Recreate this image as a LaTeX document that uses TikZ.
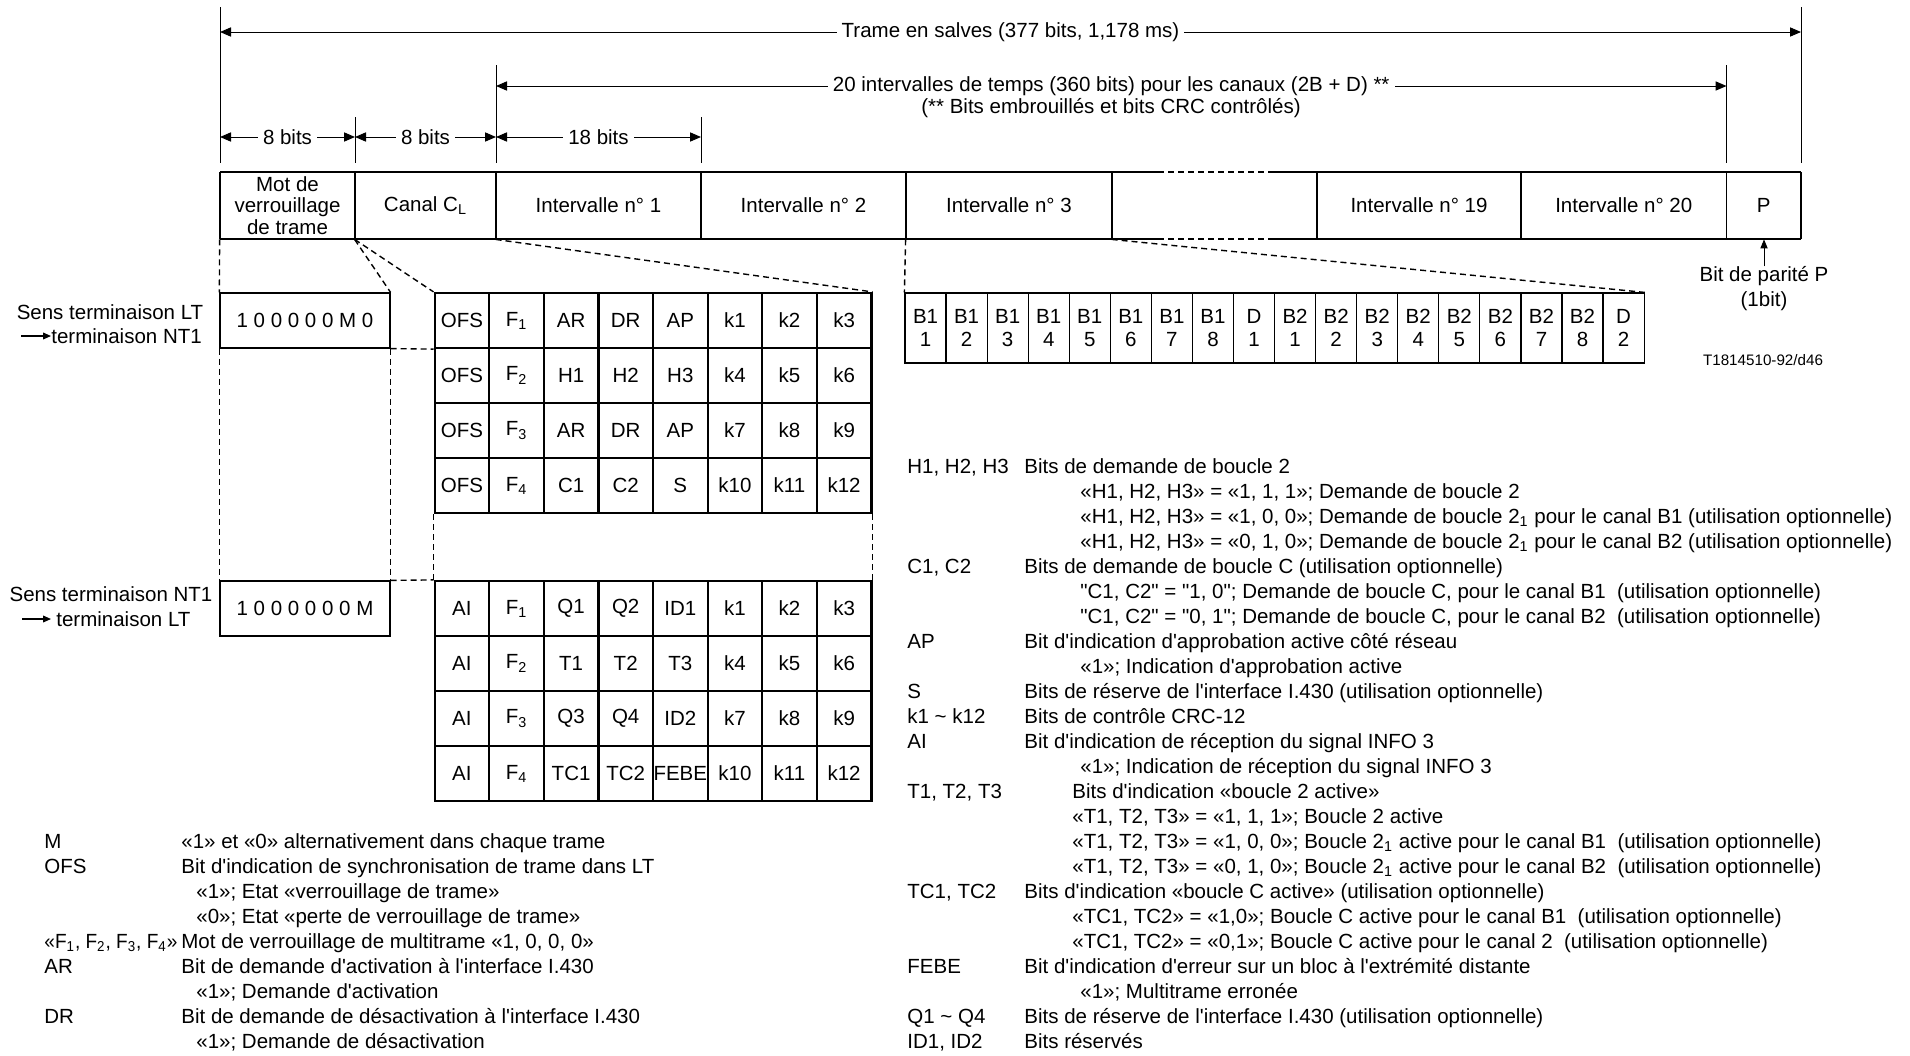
\documentclass[tikz,border=0pt]{standalone}
\usepackage{fontspec}
\newfontfamily\itufont{Liberation Sans}
\usetikzlibrary{arrows.meta}

\newcommand{\txt}{\itufont\fontsize{10.25}{12.5}\selectfont}
\newcommand{\tinytxt}{\itufont\fontsize{7.6}{9}\selectfont}
\newcommand{\sbs}[1]{\textsubscript{#1}}
\newcommand{\lrow}{466}
\newcommand{\lstep}{25}
\newcommand{\xlab}{907}
\newcommand{\xdesc}{1024}
\newcommand{\xsub}{1080}
\newcommand{\xtsub}{1072}
\newcommand{\legnode}[4]{\node[legtext] (#1) at (#2,{\lrow+7+\lstep*#3}) {#4};}

\tikzset{
  legtext/.style={font=\txt,inner sep=0pt,anchor=base west},
  dimline/.style={line width=0.5pt,{Triangle[length=5.5pt,width=4.6pt]}-{Triangle[length=5.5pt,width=4.6pt]}},
  extline/.style={line width=0.5pt},
  dimtext/.style={font=\txt,fill=white,inner xsep=2.5pt,inner ysep=1pt},
  framepen/.style={line width=0.7pt},
  fcell/.style={font=\itufont\fontsize{10.25}{10.6}\selectfont,inner sep=0pt,minimum height=33.5pt,align=center},
  tcell/.style={draw,line width=1.1pt,font=\txt,inner sep=0pt,minimum width=27.3pt,minimum height=27.5pt},
  bcell/.style={draw,line width=0.6pt,font=\itufont\fontsize{10.25}{11.5}\selectfont,inner sep=0pt,minimum width=20.53pt,minimum height=35pt,align=center},
  wordbox/.style={draw,line width=0.6pt,font=\txt,inner sep=0pt,minimum width=85pt,minimum height=27.5pt},
  zoomline/.style={dash pattern=on 3pt off 2pt,line width=0.7pt},
  sensarrow/.style={line width=0.6pt,-{Triangle[length=4pt,width=3.4pt]}}
}

\begin{document}
\begin{tikzpicture}[x=0.5pt,y=-0.5pt]
\path[fill=white,use as bounding box] (0,0) rectangle (1910,1055);

%% ---------------- dimension arrows ----------------
\foreach \x/\ya in {220/7,1801/7,496/65,1726.5/65,355/117,701/117}
  \draw[extline] (\x,\ya) -- (\x,163);
\draw[dimline] (220,32) -- node[dimtext] (ttot) {Trame en salves (377 bits, 1,178 ms)} (1801,32);
\draw[dimline] (496,86) -- node[dimtext] (tint) {20 intervalles de temps (360 bits) pour les canaux (2B + D) **} (1726.5,86);
\node[font=\txt,inner sep=0pt] (tcrc) at (1111,108) {(** Bits embrouillés et bits CRC contrôlés)};
\draw[dimline] (220,137) -- node[dimtext] (tfa) {8 bits} (355,137);
\draw[dimline] (355,137) -- node[dimtext] (tfb) {8 bits} (496,137);
\draw[dimline] (496,137) -- node[dimtext] (tfc) {18 bits} (701,137);

%% ---------------- frame ----------------
\foreach \xa/\xb/\ftext [count=\i] in {220/355/{Mot de\\verrouillage\\de trame},355/496/{Canal C\sbs{L}},
    496/701/{Intervalle n° 1},701/906/{Intervalle n° 2},906/1112/{Intervalle n° 3},1112/1317/{},
    1317/1521/{Intervalle n° 19},1521/1726.5/{Intervalle n° 20},1726.5/1801/P}
  \node[fcell,minimum width={(\xb-\xa)*0.5pt}] (f\i) at ({(\xa+\xb)/2},205.5) {\ftext};
\draw[framepen] (220,172) -- (1158,172) (1274,172) -- (1801,172)
                (220,239) -- (1158,239) (1274,239) -- (1801,239);
\draw[framepen,zoomline] (1158,172) -- (1274,172) (1158,239) -- (1274,239);
\foreach \x in {220,355,496,701,906,1112,1317,1521,1726.5,1801}
  \draw[framepen] (\x,172) -- (\x,239);

\node[font=\txt,align=center,inner sep=0pt] (par) at (1764,289) {Bit de parité P\\(1bit)};
\draw[line width=0.5pt,-{Triangle[length=4.5pt,width=3.6pt]}] (par.north) -- (par.north |- f9.south);
\node[font=\tinytxt,inner sep=0pt] (tcode) at (1763,360) {T1814510-92/d46};

%% ---------------- LT -> NT1 ----------------
\node[font=\txt,inner sep=0pt] (s1a) at (110,312) {Sens terminaison LT};
\node[font=\txt,inner sep=0pt,anchor=west] (s1b) at (51,336) {terminaison NT1};
\draw[sensarrow] ([xshift=-15pt]s1b.west) -- (s1b.west);
\node[wordbox] (lt) at (305,320.5) {1 0 0 0 0 0 M 0};
\foreach \row [count=\r] in {{OFS,F\sbs{1},AR,DR,AP,k1,k2,k3},{OFS,F\sbs{2},H1,H2,H3,k4,k5,k6},
    {OFS,F\sbs{3},AR,DR,AP,k7,k8,k9},{OFS,F\sbs{4},C1,C2,S,k10,k11,k12}}
  \foreach \c [count=\k] in \row
    \node[tcell] (u\r\k) at ({434.6+54.6*(\k-0.5)},{293+55*(\r-0.5)}) {\c};

%% ---------------- NT1 -> LT ----------------
\node[font=\txt,inner sep=0pt] (s2a) at (111,594) {Sens terminaison NT1};
\node[font=\txt,inner sep=0pt,anchor=west] (s2b) at (56,619) {terminaison LT};
\draw[sensarrow] ([xshift=-17pt]s2b.west) -- ([xshift=-2.5pt]s2b.west);
\node[wordbox] (nt) at (305,608.5) {1 0 0 0 0 0 0 M};
\foreach \row [count=\r] in {{AI,F\sbs{1},Q1,Q2,ID1,k1,k2,k3},{AI,F\sbs{2},T1,T2,T3,k4,k5,k6},
    {AI,F\sbs{3},Q3,Q4,ID2,k7,k8,k9},{AI,F\sbs{4},TC1,TC2,FEBE,k10,k11,k12}}
  \foreach \c [count=\k] in \row
    \node[tcell] (d\r\k) at ({434.6+54.6*(\k-0.5)},{581+55*(\r-0.5)}) {\c};

%% ---------------- 2B+D bits ----------------
\foreach \bname/\bidx [count=\k] in {B1/1,B1/2,B1/3,B1/4,B1/5,B1/6,B1/7,B1/8,D/1,
    B2/1,B2/2,B2/3,B2/4,B2/5,B2/6,B2/7,B2/8,D/2}
  \node[bcell] (b\k) at ({905+41.06*(\k-0.5)},328) {\bname\\\bidx};

%% ---------------- zoom lines ----------------
\draw[zoomline] (f1.south west) -- (lt.north west);
\draw[zoomline] (f2.south west) -- (lt.north east);
\draw[zoomline] (f2.south west) -- (u11.north west);
\draw[zoomline] (f3.south west) -- (u18.north east);
\draw[zoomline] (f5.south west) -- (b1.north west);
\draw[zoomline] (f6.south west) -- (b18.north east);
\draw[zoomline] (lt.south west) -- (nt.north west);
\draw[zoomline] (lt.south east) -- (nt.north east);
\draw[zoomline] (lt.south east) -- (u11.south west);
\draw[zoomline] (nt.north east) -- (d11.north west);
\draw[zoomline] (u41.south west) -- (d11.north west);
\draw[zoomline] (u48.south east) -- (d18.north east);

%% ---------------- legend, left ----------------
\legnode{lm}{44}{15}{M}
\legnode{lmd}{181}{15}{«1» et «0» alternativement dans chaque trame}
\legnode{lofs}{44}{16}{OFS}
\legnode{lofsd}{181}{16}{Bit d'indication de synchronisation de trame dans LT}
\legnode{lofsa}{196}{17}{«1»; Etat «verrouillage de trame»}
\legnode{lofsb}{196}{18}{«0»; Etat «perte de verrouillage de trame»}
\legnode{lf}{44}{19}{\scalebox{0.93}[1]{«F\sbs{1}, F\sbs{2}, F\sbs{3}, F\sbs{4}»}}
\legnode{lfd}{181}{19}{Mot de verrouillage de multitrame «1, 0, 0, 0»}
\legnode{lar}{44}{20}{AR}
\legnode{lard}{181}{20}{Bit de demande d'activation à l'interface I.430}
\legnode{lara}{196}{21}{«1»; Demande d'activation}
\legnode{ldr}{44}{22}{DR}
\legnode{ldrd}{181}{22}{Bit de demande de désactivation à l'interface I.430}
\legnode{ldra}{196}{23}{«1»; Demande de désactivation}

%% ---------------- legend, right ----------------
\legnode{rh}{\xlab}{0}{H1, H2, H3}
\legnode{rhd}{\xdesc}{0}{Bits de demande de boucle 2}
\legnode{rha}{\xsub}{1}{«H1, H2, H3» = «1, 1, 1»; Demande de boucle 2}
\legnode{rhb}{\xsub}{2}{«H1, H2, H3» = «1, 0, 0»; Demande de boucle 2\sbs{1} pour le canal B1 (utilisation optionnelle)}
\legnode{rhc}{\xsub}{3}{«H1, H2, H3» = «0, 1, 0»; Demande de boucle 2\sbs{1} pour le canal B2 (utilisation optionnelle)}
\legnode{rc}{\xlab}{4}{C1, C2}
\legnode{rcd}{\xdesc}{4}{Bits de demande de boucle C (utilisation optionnelle)}
\legnode{rca}{\xsub}{5}{"C1, C2" = "1, 0"; Demande de boucle C, pour le canal B1\ \ (utilisation optionnelle)}
\legnode{rcb}{\xsub}{6}{"C1, C2" = "0, 1"; Demande de boucle C, pour le canal B2\ \ (utilisation optionnelle)}
\legnode{rap}{\xlab}{7}{AP}
\legnode{rapd}{\xdesc}{7}{Bit d'indication d'approbation active côté réseau}
\legnode{rapa}{\xsub}{8}{«1»; Indication d'approbation active}
\legnode{rs}{\xlab}{9}{S}
\legnode{rsd}{\xdesc}{9}{Bits de réserve de l'interface I.430 (utilisation optionnelle)}
\legnode{rk}{\xlab}{10}{k1 \textasciitilde{} k12}
\legnode{rkd}{\xdesc}{10}{Bits de contrôle CRC-12}
\legnode{rai}{\xlab}{11}{AI}
\legnode{raid}{\xdesc}{11}{Bit d'indication de réception du signal INFO 3}
\legnode{raia}{\xsub}{12}{«1»; Indication de réception du signal INFO 3}
\legnode{rt}{\xlab}{13}{T1, T2, T3}
\legnode{rtd}{\xtsub}{13}{Bits d'indication «boucle 2 active»}
\legnode{rta}{\xtsub}{14}{«T1, T2, T3» = «1, 1, 1»; Boucle 2 active}
\legnode{rtb}{\xtsub}{15}{«T1, T2, T3» = «1, 0, 0»; Boucle 2\sbs{1} active pour le canal B1\ \ (utilisation optionnelle)}
\legnode{rtc}{\xtsub}{16}{«T1, T2, T3» = «0, 1, 0»; Boucle 2\sbs{1} active pour le canal B2\ \ (utilisation optionnelle)}
\legnode{rtcl}{\xlab}{17}{TC1, TC2}
\legnode{rtcd}{\xdesc}{17}{Bits d'indication «boucle C active» (utilisation optionnelle)}
\legnode{rtca}{\xtsub}{18}{«TC1, TC2» = «1,0»; Boucle C active pour le canal B1\ \ (utilisation optionnelle)}
\legnode{rtcb}{\xtsub}{19}{«TC1, TC2» = «0,1»; Boucle C active pour le canal 2\ \ (utilisation optionnelle)}
\legnode{rfe}{\xlab}{20}{FEBE}
\legnode{rfed}{\xdesc}{20}{Bit d'indication d'erreur sur un bloc à l'extrémité distante}
\legnode{rfea}{\xsub}{21}{«1»; Multitrame erronée}
\legnode{rq}{\xlab}{22}{Q1 \textasciitilde{} Q4}
\legnode{rqd}{\xdesc}{22}{Bits de réserve de l'interface I.430 (utilisation optionnelle)}
\legnode{rid}{\xlab}{23}{ID1, ID2}
\legnode{ridd}{\xdesc}{23}{Bits réservés}

\end{tikzpicture}
\end{document}
